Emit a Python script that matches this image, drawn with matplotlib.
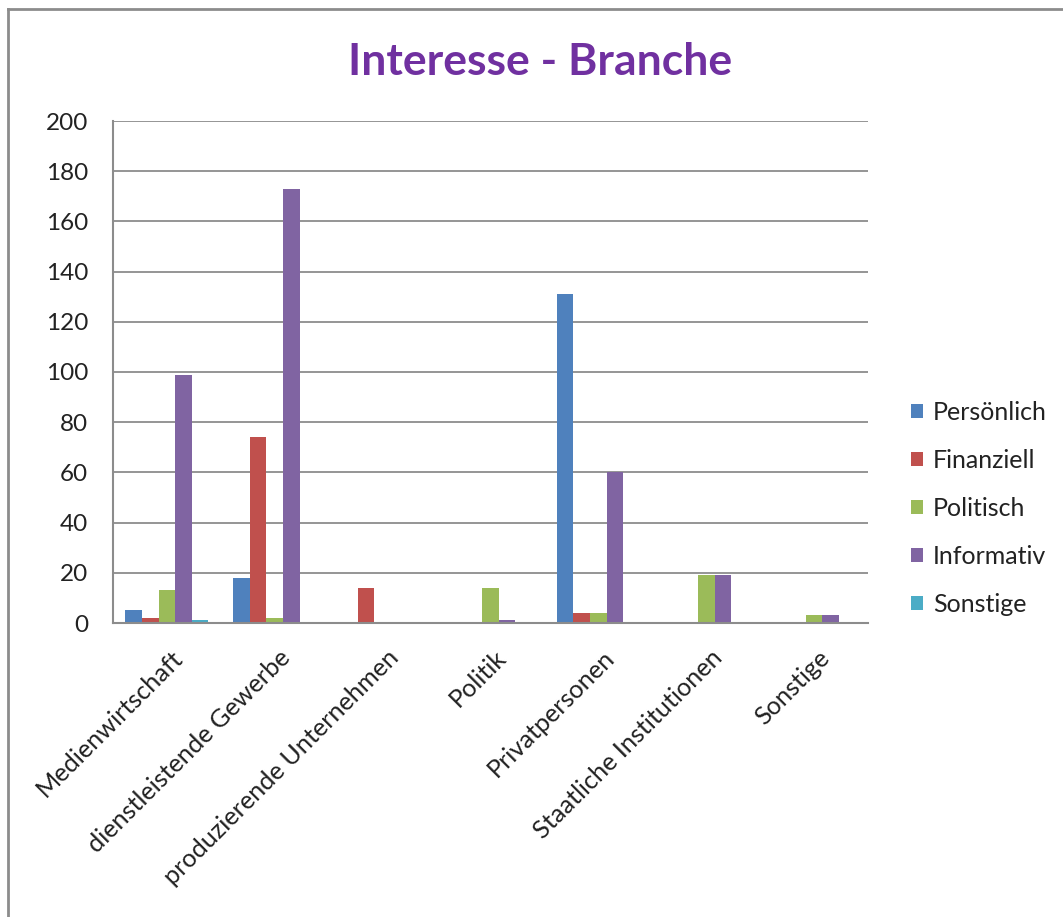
import matplotlib
matplotlib.use("Agg")
import matplotlib.pyplot as plt
import numpy as np
from matplotlib.patches import Patch
from matplotlib.lines import Line2D

plt.rcParams['font.family'] = ['Lato', 'DejaVu Sans']

categories = ["Medienwirtschaft", "dienstleistende Gewerbe", "produzierende Unternehmen",
              "Politik", "Privatpersonen", "Staatliche Institutionen", "Sonstige"]
series_names = ["Persönlich", "Finanziell", "Politisch", "Informativ", "Sonstige"]
persoenlich = [5, 18, 0, 0, 131, 0, 0]
finanziell = [2, 74, 14, 0, 4, 0, 0]
politisch = [13, 2, 0, 14, 4, 19, 3]
informativ = [99, 173, 0, 1, 60, 19, 3]
sonstige = [1, 0, 0, 0, 0, 0, 0]
y_ticks = [0, 20, 40, 60, 80, 100, 120, 140, 160, 180, 200]

series = [persoenlich, finanziell, politisch, informativ, sonstige]
colors = ["#4F81BD", "#C0504D", "#9BBB59", "#8064A2", "#4BACC6"]

W, H = 1063, 917
fig = plt.figure(figsize=(W / 100, H / 100), dpi=100)
ax = fig.add_axes([113 / W, 1 - 623 / H, (868 - 113) / W, (623 - 121) / H])

x = np.arange(len(categories))
bw = 1 / 6.5
for i, (vals, col, name) in enumerate(zip(series, colors, series_names)):
    ax.bar(x + (i - 2) * bw, vals, width=bw, color=col, label=name,
           linewidth=0, zorder=3)

ax.set_xlim(-0.5, len(categories) - 0.5)
ax.set_ylim(0, 200)
ax.set_yticks(y_ticks)
ax.set_yticklabels([str(t) for t in y_ticks], fontsize=17.5, color="#222222")
ax.tick_params(axis='y', length=0, pad=18)
ax.tick_params(axis='x', length=0)
ax.set_xticks([])
ax.yaxis.grid(True, color="#8C8C8C", linewidth=1.3, zorder=0)
for s in ["top", "right"]:
    ax.spines[s].set_visible(False)
for s in ["left", "bottom"]:
    ax.spines[s].set_color("#8C8C8C")
    ax.spines[s].set_linewidth(1.5)
    ax.spines[s].set_zorder(4)

# rotated category labels, right end anchored below each group
for xi, lab in zip(x, categories):
    ax.annotate(lab, xy=(xi, 0), xycoords='data', xytext=(12, -31),
                textcoords='offset pixels', rotation=45, rotation_mode='anchor',
                ha='right', va='center', fontsize=18.2, color="#222222")

fig.text(540 / W, 1 - 62 / H, "Interesse - Branche", ha='center', va='center',
         fontsize=32, fontweight='bold', color="#7030A0")

handles = [Patch(facecolor=c, edgecolor='none') for c in colors]
fig.legend(handles, series_names, loc='center left',
           bbox_to_anchor=(888 / W, 1 - 508 / H), frameon=False, fontsize=18,
           handlelength=0.5, handleheight=0.5, handletextpad=0.4,
           labelspacing=1.0, labelcolor="#222222")

# outer chart frame
fig.add_artist(Line2D([8 / W, 8 / W], [0, 1 - 9 / H], transform=fig.transFigure,
                      color="#8C8C8C", linewidth=2))
fig.add_artist(Line2D([8 / W, 1], [1 - 9 / H, 1 - 9 / H], transform=fig.transFigure,
                      color="#8C8C8C", linewidth=2))

fig.savefig("out.png", dpi=100)
